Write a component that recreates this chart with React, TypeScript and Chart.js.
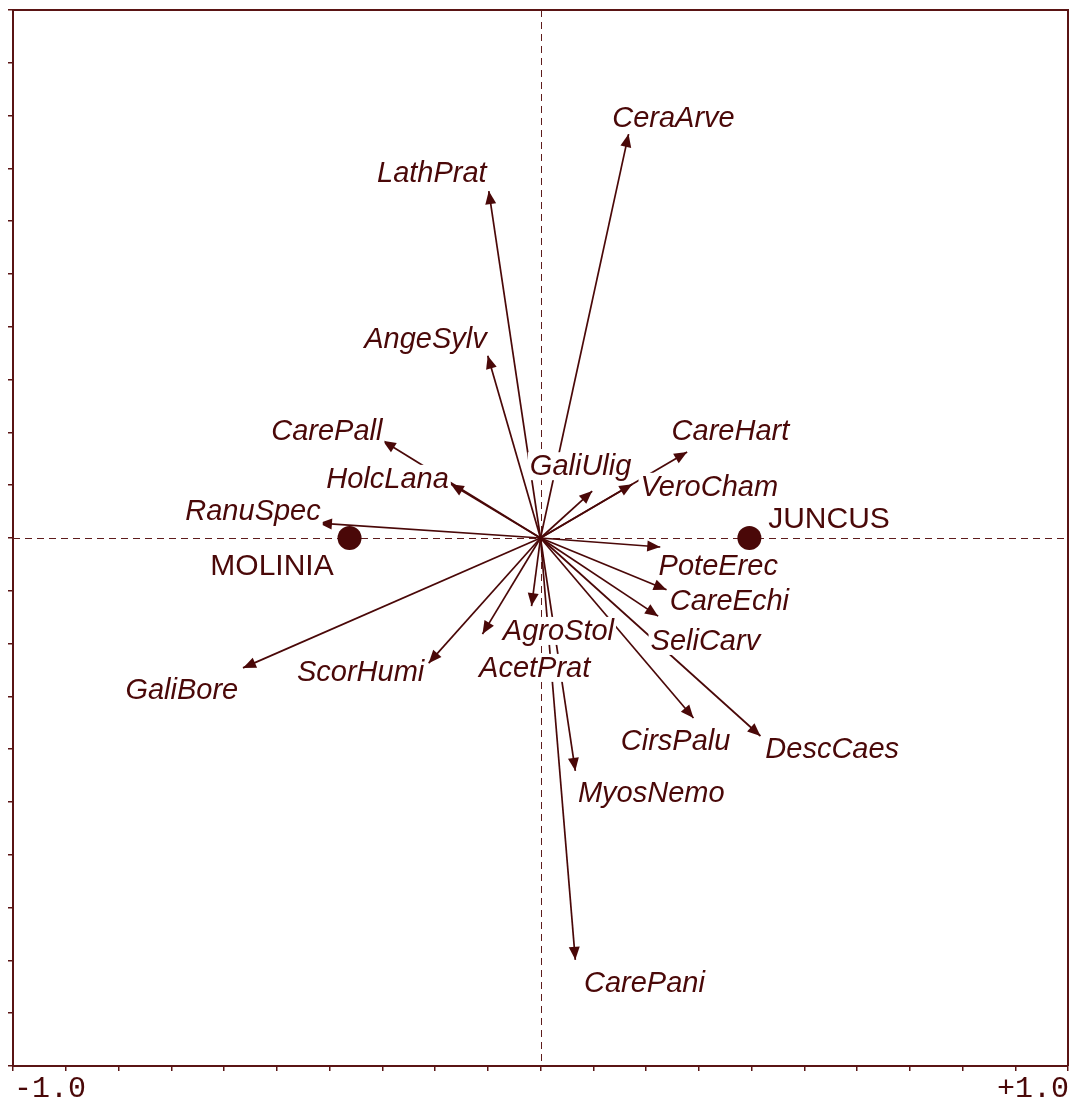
import React, { useEffect, useRef } from 'react';
import { Chart, registerables } from 'chart.js';

Chart.register(...registerables);

// ---- data ----
const species = [
  'CeraArve', 'LathPrat', 'AngeSylv', 'CarePall', 'HolcLana', 'RanuSpec',
  'GaliUlig', 'CareHart', 'VeroCham', 'PoteErec', 'CareEchi', 'SeliCarv',
  'AgroStol', 'AcetPrat', 'ScorHumi', 'GaliBore', 'CirsPalu', 'DescCaes',
  'MyosNemo', 'CarePani',
];
const arrowX = [
  0.167, -0.098, -0.100, -0.299, -0.170, -0.420,
  0.098, 0.278, 0.174, 0.227, 0.239, 0.223,
  -0.017, -0.110, -0.212, -0.564, 0.290, 0.417,
  0.066, 0.066,
];
const arrowY = [
  0.765, 0.657, 0.345, 0.184, 0.102, 0.028,
  0.089, 0.163, 0.102, -0.017, -0.098, -0.148,
  -0.129, -0.182, -0.237, -0.246, -0.341, -0.375,
  -0.441, -0.799,
];
const labelX = [
  0.252, -0.206, -0.218, -0.405, -0.290, -0.545,
  0.076, 0.360, 0.320, 0.337, 0.358, 0.3125,
  0.034, -0.011, -0.341, -0.680, 0.256, 0.553,
  0.210, 0.197,
];
const labelY = [
  0.795, 0.691, 0.377, 0.203, 0.112, 0.051,
  0.136, 0.203, 0.097, -0.053, -0.119, -0.195,
  -0.176, -0.246, -0.254, -0.288, -0.384, -0.400,
  -0.483, -0.843,
];
const sampleNames = ['MOLINIA', 'JUNCUS'];
const sampleX = [-0.362, 0.396];
const sampleY = [0, 0];
const sampleLabelX = [-0.509, 0.547];
const sampleLabelY = [-0.053, 0.036];
const axisMin = -1;
const axisMax = 1;
const tickStep = 0.1;
const cornerLabels = ['-1.0', '+1.0'];

// ---- styles ----
const INK = '#4a0808';
const FRAME = '#5a1414';
const DASH = '#5e1c1c';

const biplotPlugin = {
  id: 'biplot',
  beforeDatasetsDraw(chart: any) {
    const { ctx, chartArea, scales } = chart;
    const x0 = Math.round(scales.x.getPixelForValue(0)) + 0.5;
    const y0 = Math.round(scales.y.getPixelForValue(0)) + 0.5;
    ctx.save();
    ctx.strokeStyle = DASH;
    ctx.lineWidth = 1;
    ctx.setLineDash([7, 5]);
    ctx.beginPath();
    ctx.moveTo(x0, chartArea.top);
    ctx.lineTo(x0, chartArea.bottom);
    ctx.moveTo(chartArea.left, y0);
    ctx.lineTo(chartArea.right, y0);
    ctx.stroke();
    ctx.restore();
  },
  afterDatasetsDraw(chart: any) {
    const { ctx, chartArea, scales } = chart;
    const sx = scales.x;
    const sy = scales.y;
    const ox = sx.getPixelForValue(0);
    const oy = sy.getPixelForValue(0);
    ctx.save();
    // arrowheads
    ctx.fillStyle = INK;
    for (let i = 0; i < species.length; i++) {
      const tx = sx.getPixelForValue(arrowX[i]);
      const ty = sy.getPixelForValue(arrowY[i]);
      const a = Math.atan2(ty - oy, tx - ox);
      const L = 13;
      const W = 5.5;
      const bx = tx - L * Math.cos(a);
      const by = ty - L * Math.sin(a);
      ctx.beginPath();
      ctx.moveTo(tx, ty);
      ctx.lineTo(bx + W * Math.sin(a), by - W * Math.cos(a));
      ctx.lineTo(bx - W * Math.sin(a), by + W * Math.cos(a));
      ctx.closePath();
      ctx.fill();
    }
    // species labels with white boxes
    ctx.font = 'italic 29px "Liberation Sans", Arial, sans-serif';
    ctx.textAlign = 'center';
    ctx.textBaseline = 'middle';
    for (let i = 0; i < species.length; i++) {
      const lx = sx.getPixelForValue(labelX[i]);
      const ly = sy.getPixelForValue(labelY[i]);
      const w = ctx.measureText(species[i]).width;
      ctx.fillStyle = '#ffffff';
      ctx.fillRect(lx - w / 2 - 2, ly - 14, w + 4, 28);
      ctx.fillStyle = INK;
      ctx.fillText(species[i], lx, ly + 1);
    }
    // sample labels
    ctx.font = '30px "Liberation Sans", Arial, sans-serif';
    for (let i = 0; i < sampleNames.length; i++) {
      const lx = sx.getPixelForValue(sampleLabelX[i]);
      const ly = sy.getPixelForValue(sampleLabelY[i]);
      ctx.fillStyle = INK;
      ctx.fillText(sampleNames[i], lx, ly + 1);
    }
    // frame top/right
    ctx.strokeStyle = FRAME;
    ctx.lineWidth = 2;
    ctx.beginPath();
    ctx.moveTo(chartArea.left, chartArea.top);
    ctx.lineTo(chartArea.right, chartArea.top);
    ctx.lineTo(chartArea.right, chartArea.bottom);
    ctx.stroke();
    // corner axis labels
    ctx.font = '30px "Liberation Mono", "DejaVu Sans Mono", monospace';
    ctx.fillStyle = INK;
    ctx.textBaseline = 'alphabetic';
    ctx.textAlign = 'left';
    ctx.fillText(cornerLabels[0], sx.getPixelForValue(axisMin) + 1, chartArea.bottom + 31);
    ctx.textAlign = 'right';
    ctx.fillText(cornerLabels[1], sx.getPixelForValue(axisMax) + 1, chartArea.bottom + 31);
    ctx.restore();
  },
};

function zeroPad(s: any) {
  s.paddingLeft = 0;
  s.paddingRight = 0;
  s.paddingTop = 0;
  s.paddingBottom = 0;
}

export default function App() {
  const ref = useRef<HTMLCanvasElement | null>(null);
  useEffect(() => {
    if (!ref.current) return;
    const datasets: any[] = species.map((name, i) => ({
      label: name,
      data: [
        { x: 0, y: 0 },
        { x: arrowX[i], y: arrowY[i] },
      ],
      showLine: true,
      borderColor: INK,
      borderWidth: 1.7,
      pointRadius: 0,
    }));
    datasets.push({
      label: 'samples',
      data: sampleX.map((x, i) => ({ x, y: sampleY[i] })),
      showLine: false,
      pointRadius: 12,
      pointBackgroundColor: INK,
      pointBorderColor: INK,
      pointBorderWidth: 0,
    });
    const axisCommon = {
      type: 'linear' as const,
      min: axisMin,
      max: axisMax,
      ticks: { stepSize: tickStep, display: false },
      grid: {
        drawOnChartArea: false,
        drawTicks: true,
        tickLength: 5,
        color: FRAME,
        lineWidth: 1.5,
      },
      border: { display: true, color: FRAME, width: 2 },
    };
    const chart = new Chart(ref.current, {
      type: 'scatter',
      data: { datasets },
      options: {
        animation: false,
        responsive: false,
        maintainAspectRatio: false,
        events: [],
        layout: { autoPadding: false, padding: { top: 10, right: 3, left: 0, bottom: 0 } },
        plugins: {
          legend: { display: false },
          tooltip: { enabled: false },
        },
        scales: {
          x: {
            ...axisCommon,
            position: 'bottom',
            afterFit: (s: any) => { s.height = 36; zeroPad(s); },
          },
          y: {
            ...axisCommon,
            position: 'left',
            afterFit: (s: any) => { s.width = 13; zeroPad(s); },
          },
        },
      } as any,
      plugins: [biplotPlugin],
    });
    return () => chart.destroy();
  }, []);
  return (
    <div style={{ position: 'absolute', left: 0, top: 0, width: 1071, height: 1102, background: '#fff' }}>
      <canvas ref={ref} width={1071} height={1102} style={{ display: 'block' }} />
    </div>
  );
}
